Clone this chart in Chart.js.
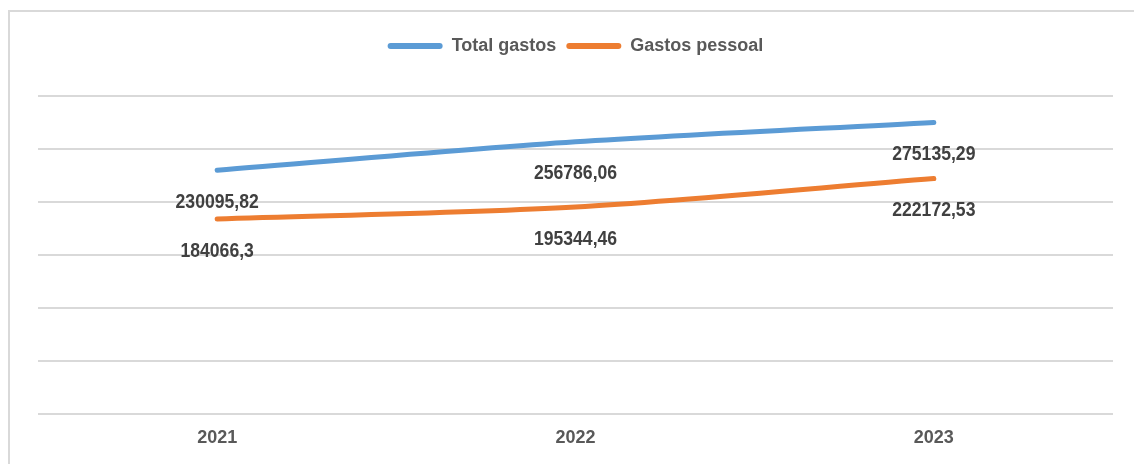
<!DOCTYPE html>
<html>
<head>
<meta charset="utf-8">
<script src="https://cdn.jsdelivr.net/npm/chart.js@4.4.1/dist/chart.umd.min.js"></script>
<style>
  html, body { margin: 0; padding: 0; background: #ffffff; }
  #wrap { position: relative; width: 1134px; height: 464px; overflow: hidden; }
  #frame { position: absolute; left: 8px; top: 10px; width: 1200px; height: 500px;
           border-left: 2px solid #d9d9d9; border-top: 2px solid #d9d9d9; box-sizing: border-box; }
  #chart { position: absolute; left: 0; top: 0; }
</style>
</head>
<body>
<div id="wrap">
  <div id="frame"></div>
  <canvas id="chart" width="1134" height="464"></canvas>
</div>
<script>
// Annual figures
const years = ['2021', '2022', '2023'];
const totalGastos = [230095.82, 256786.06, 275135.29];
const gastosPessoal = [184066.3, 195344.46, 222172.53];
const seriesNames = ['Total gastos', 'Gastos pessoal'];

const FONT = "'Liberation Sans Narrow', 'Arial Narrow', 'Liberation Sans', sans-serif";

// Writes each point's value beneath it, with a decimal comma (slightly condensed)
const valueLabels = {
  id: 'valueLabels',
  afterDatasetsDraw(chart) {
    const ctx = chart.ctx;
    const squeeze = 0.88;
    ctx.save();
    ctx.font = 'bold 20px ' + FONT;
    ctx.fillStyle = '#404040';
    ctx.textAlign = 'center';
    ctx.textBaseline = 'middle';
    chart.data.datasets.forEach((ds, i) => {
      chart.getDatasetMeta(i).data.forEach((pt, j) => {
        const txt = String(ds.data[j]).replace('.', ',');
        ctx.save();
        ctx.translate(pt.x, pt.y + 32);
        ctx.scale(squeeze, 1);
        ctx.fillText(txt, 0, 0);
        ctx.restore();
      });
    });
    ctx.restore();
  }
};

// Extra room between the legend row and the plot
const legendGap = {
  id: 'legendGap',
  beforeInit(chart) {
    const fit = chart.legend.fit;
    chart.legend.fit = function () {
      fit.call(this);
      this.height += 31;
    };
  }
};

new Chart(document.getElementById('chart'), {
  type: 'line',
  data: {
    labels: years,
    datasets: [
      {
        label: seriesNames[0],
        data: totalGastos,
        borderColor: '#5b9bd5',
        backgroundColor: '#5b9bd5',
        borderWidth: 5,
        borderCapStyle: 'round',
        pointRadius: 0,
        tension: 0.3
      },
      {
        label: seriesNames[1],
        data: gastosPessoal,
        borderColor: '#ed7d31',
        backgroundColor: '#ed7d31',
        borderWidth: 5,
        borderCapStyle: 'round',
        pointRadius: 0,
        tension: 0.3
      }
    ]
  },
  options: {
    responsive: false,
    animation: false,
    layout: { padding: { left: 38, right: 21, top: 27, bottom: 10 } },
    plugins: {
      legend: {
        position: 'top',
        labels: {
          boxWidth: 55,
          boxHeight: 6,
          useBorderRadius: true,
          borderRadius: 3,
          padding: 10,
          color: '#595959',
          font: { family: FONT, size: 18, weight: 'bold' },
          generateLabels(chart) {
            return Chart.defaults.plugins.legend.labels.generateLabels(chart)
              .map(l => Object.assign(l, { lineWidth: 0 }));
          }
        }
      },
      tooltip: { enabled: false }
    },
    scales: {
      x: {
        offset: true,
        grid: { display: false },
        border: { display: false },
        ticks: {
          padding: 5,
          color: '#595959',
          font: { family: FONT, size: 18, weight: 'bold' }
        }
      },
      y: {
        min: 0,
        max: 300000,
        ticks: { display: false, stepSize: 50000 },
        border: { display: false },
        grid: { color: '#d9d9d9', lineWidth: 2, drawTicks: false }
      }
    }
  },
  plugins: [legendGap, valueLabels]
});
</script>
</body>
</html>
